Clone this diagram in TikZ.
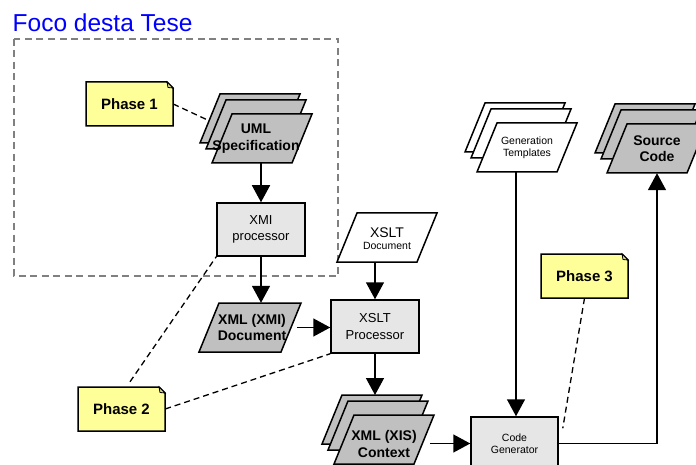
\documentclass[tikz,border=0pt]{standalone}
\usepackage{fontspec}
\setmainfont{Liberation Sans}
\usetikzlibrary{arrows.meta}

\definecolor{docgrey}{HTML}{C0C0C0}
\definecolor{procgrey}{HTML}{E6E6E6}
\definecolor{noteyellow}{HTML}{FFFF99}
\definecolor{framegrey}{HTML}{808080}
\definecolor{titleblue}{HTML}{0000FF}

\tikzset{
  outline/.style={draw=black, line width=1.5pt, line join=miter},
  flow/.style={draw=black, line width=1.5pt, -{Triangle[length=17pt,width=18pt]}},
  link/.style={draw=black, line width=1.3pt, dash pattern=on 6pt off 4pt},
  procbox/.style={outline, fill=procgrey, minimum width=88pt, minimum height=53pt,
    inner sep=0pt, align=center, font=\fontsize{13}{16.5}\selectfont},
  doclabel/.style={minimum width=80pt, minimum height=49pt, inner sep=0pt, align=center},
  boldlabel/.style={doclabel, font=\bfseries\fontsize{14}{16.5}\selectfont},
  smalllabel/.style={doclabel, font=\fontsize{10.5}{12}\selectfont},
  notelabel/.style={minimum width=87pt, minimum height=44pt, inner sep=0pt,
    font=\bfseries\fontsize{15}{18}\selectfont},
}

% a slanted document sheet: centre x, centre y, fill, width
\newcommand\parallelo[4]{%
  \path[outline, fill=#3] (#1-#4/2+10,#2-24.5) -- ++(#4,0) -- ++(-20,49) -- ++(-#4,0) -- cycle;}
% a pile of three sheets, front sheet centred at the given point
\newcommand\docstack[4]{%
  \parallelo{#1-12}{#2-20}{#3}{#4}%
  \parallelo{#1-6}{#2-14}{#3}{#4}%
  \parallelo{#1}{#2}{#3}{#4}}
% a yellow note with a folded top-right corner
\newcommand\notesheet[2]{%
  \path[outline, fill=noteyellow] (#1-43.5,#2-22) -- (#1+37.5,#2-22) -- (#1+43.5,#2-16)
    -- (#1+43.5,#2+22) -- (#1-43.5,#2+22) -- cycle;
  \path[draw=black, line width=0.8pt, fill=noteyellow!75!gray]
    (#1+37.5,#2-22) -- (#1+38.5,#2-16.5) -- (#1+43.5,#2-16) -- cycle;}

\begin{document}
\begin{tikzpicture}[x=1pt,y=-1pt]
\useasboundingbox (0,0) rectangle (696,465);
\clip (0,0) rectangle (696,465);

% focus frame
\node[anchor=base west, inner sep=0pt, text=titleblue, font=\fontsize{24.5}{28}\selectfont]
  (title) at (12.5,32) {Foco desta Tese};
\draw[framegrey, line width=1.4pt, dash pattern=on 7pt off 4.5pt] (14,39) rectangle (338,276);

% phase 1
\notesheet{129.5}{104}
\node[notelabel] (phase1) at (129.5,104) {Phase 1};
\coordinate (umlback) at (214,123);
\draw[link] (phase1.east) -- (umlback);

\docstack{262}{138.5}{docgrey}{80}
\node[boldlabel, xshift=-6pt] (uml) at (262,138.5) {UML\\Specification};

\node[procbox] (xmi) at (261,229.5) {XMI\\processor};
\draw[flow] (xmi.north |- uml.south) -- (xmi.north);

\parallelo{250}{327.5}{docgrey}{82}
\node[boldlabel] (xmidoc) at (252,327.5) {XML (XMI)\\Document};
\draw[flow] (xmi.south) -- (xmi.south |- xmidoc.north);

% XSLT transformation
\parallelo{387}{237.5}{white}{80}
\node[doclabel] (xsltdoc) at (387,238.5)
  {\fontsize{14}{15}\selectfont XSLT\\\fontsize{10.5}{12}\selectfont Document};

\node[procbox] (xsltp) at (375,326.5) {XSLT\\Processor};
\draw[flow] (xsltp.north |- 0,262) -- (xsltp.north);
\draw[flow] ([xshift=5pt]xmidoc.east) -- (xmidoc.east -| xsltp.west);

% phase 2
\notesheet{121.5}{409}
\node[notelabel] (phase2) at (121.5,409) {Phase 2};
\draw[link] ([xshift=8.5pt,yshift=5pt]phase2.north) -- (xmi.south west);
\draw[link] (phase2.east) -- (xsltp.south west);

\docstack{384}{439.5}{docgrey}{80}
\coordinate (xistop) at (372,395);
\node[boldlabel] (xis) at (384,444) {XML (XIS)\\Context};
\draw[flow] (xsltp.south) -- (xsltp.south |- xistop);

% code generation
\docstack{527}{147.5}{white}{80}
\node[smalllabel] (templates) at (527,147.5) {Generation\\Templates};

\docstack{657}{148.5}{docgrey}{80}
\node[boldlabel] (source) at (657,148.5) {Source\\Code};

\node[procbox, minimum width=87pt, font=\fontsize{10.5}{12}\selectfont]
  (codegen) at (514.5,443.5) {Code\\Generator};
\draw[flow] ([xshift=1.5pt]codegen.north |- templates.south) -- ([xshift=1.5pt]codegen.north);
\draw[flow] ([xshift=6pt]xis.east |- codegen.west) -- (codegen.west);
\draw[flow] (codegen.east) -| (source.south);

% phase 3
\notesheet{584.5}{276}
\node[notelabel] (phase3) at (584.5,276) {Phase 3};
\draw[link] (phase3.south) -- ([xshift=4pt,yshift=-12pt]codegen.north east);
\end{tikzpicture}
\end{document}
